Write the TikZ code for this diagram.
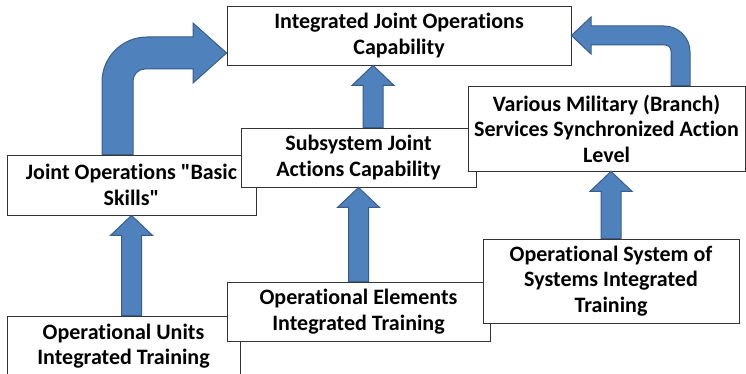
\documentclass[tikz,border=0pt]{standalone}
\usepackage{fontspec}
\setmainfont{Carlito}[Ligatures={TeXOff,NoCommon}]
\usetikzlibrary{calc,positioning}

\definecolor{arrowblue}{RGB}{79,129,189}
\definecolor{arrowedge}{RGB}{56,93,138}

\begin{document}
\begin{tikzpicture}
	[x=1pt,y=-1pt,
	every node/.style={shape=rectangle,draw=black!80,line width=0.8pt,fill=white,
		align=center,inner sep=0pt,font=\fontsize{22}{25.5}\selectfont\bfseries},
	blockarrow/.style={fill=arrowblue,draw=arrowedge,line width=1pt,line join=miter}]
	\useasboundingbox (0,0) rectangle (746,374);

	\node[minimum width=249pt,minimum height=60pt] (basic) at (131.5,185) {Joint Operations "Basic\\Skills"};
	\node[minimum width=235pt,minimum height=59pt] (subsys) at (358.5,157.5) {Subsystem Joint\\Actions Capability};
	\node[minimum width=277pt,minimum height=85pt] (branch) at (606.5,128.5) {Various Military (Branch)\\Services Synchronized Action\\Level};
	\node[minimum width=233pt,minimum height=60pt] (units) at (123.5,346) {Operational Units\\Integrated Training};
	\node[minimum width=263pt,minimum height=59pt] (elements) at (358.5,311.5) {Operational Elements\\Integrated Training};
	\node[minimum width=256pt,minimum height=84pt] (sos) at (611,281) {Operational System of\\Systems Integrated\\Training};
	\node[minimum width=344pt,minimum height=59pt] (ijoc) at (399,35.5) {Integrated Joint Operations\\Capability};

	% straight block arrows
	\foreach \ax/\src/\dst in {131.5/units/basic, 358.5/elements/subsys, 373/subsys/ijoc, 611/sos/branch}{
		\coordinate (s) at (\ax,0 |- \src.north);
		\coordinate (t) at (\ax,0 |- \dst.south);
		\draw[blockarrow] ([xshift=-10pt]s) -- ([shift={(-10,20)}]t) -- ([shift={(-21,20)}]t)
			-- (t) -- ([shift={(21,20)}]t) -- ([shift={(10,20)}]t) -- ([xshift=10pt]s) -- cycle;
	}

	% bent arrows
	\draw[blockarrow] (102,0 |- basic.north) -- (102,82) .. controls (102,57.2) and (122.2,37) .. (147,37)
		-- (193,37) -- (193,23) -- (ijoc.west |- 0,53) -- (193,83) -- (193,69) -- (145,69)
		.. controls (138.4,69) and (133,74.4) .. (133,81) -- (133,0 |- basic.north) -- cycle;
	\draw[blockarrow] (671,0 |- branch.north) -- (671,51) .. controls (671,47.7) and (668.3,45) .. (665,45)
		-- (591,45) -- (591,54) -- (ijoc.east) -- (591,17) -- (591,26) -- (664,26)
		.. controls (678.4,26) and (690,37.6) .. (690,52) -- (690,0 |- branch.north) -- cycle;
\end{tikzpicture}
\end{document}
